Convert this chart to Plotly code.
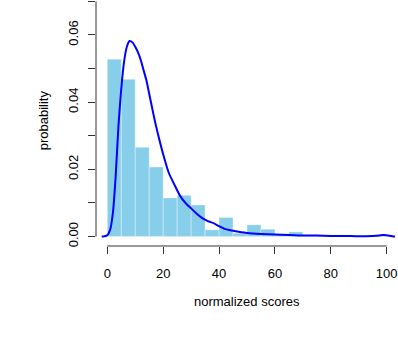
import plotly.graph_objects as go

# histogram (bin width 5, starting at 0)
bin_starts = [0, 5, 10, 15, 20, 25, 30, 35, 40, 45, 50, 55, 60, 65, 70, 75, 80, 85, 90, 95]
bin_density = [0.0528, 0.0468, 0.0266, 0.0207, 0.0115, 0.0123, 0.0094, 0.0020, 0.0057, 0.0010,
               0.0035, 0.0022, 0.0006, 0.0014, 0.0003, 0.0002, 0.0001, 0.0001, 0.0001, 0.0002]

# kernel density curve
dens_x = [-2, -1, 0, 1, 2, 3, 4, 5, 6, 7, 8, 9, 10, 11, 12, 13, 14, 15, 16, 17, 18, 20, 22, 24,
          26, 28, 30, 32, 34, 36, 38, 40, 42, 44, 46, 48, 50, 55, 60, 65, 70, 75, 80, 85, 90, 95,
          98, 99, 100, 102, 103]
dens_y = [0, 0.0001, 0.0004, 0.002, 0.007, 0.018, 0.033, 0.044, 0.052, 0.0565, 0.0582, 0.0578,
          0.0565, 0.0548, 0.0525, 0.0495, 0.0465, 0.0425, 0.0385, 0.0345, 0.031, 0.0245, 0.0190,
          0.0155, 0.0122, 0.0100, 0.0084, 0.0068, 0.0055, 0.0046, 0.0040, 0.0031, 0.0023, 0.0019,
          0.0016, 0.0013, 0.0011, 0.0008, 0.0006, 0.0005, 0.0003, 0.0003, 0.0002, 0.0002, 0.0001,
          0.0002, 0.0004, 0.0005, 0.0004, 0.0001, 0]

x_ticks = [0, 20, 40, 60, 80, 100]
y_ticks = [0, 0.01, 0.02, 0.03, 0.04, 0.05, 0.06, 0.07]
y_ticktext = ["0.00", "", "0.02", "", "0.04", "", "0.06", ""]

FONT = "Liberation Sans, Arial, Helvetica, sans-serif"
AXC = "#333333"
FS = 13

fig = go.Figure()
fig.add_trace(go.Bar(
    x=[s + 2.5 for s in bin_starts], y=bin_density, width=5,
    marker=dict(color="#87CEEB", line=dict(color="rgba(255,255,255,0.35)", width=1)),
    hoverinfo="skip", showlegend=False,
))
fig.add_trace(go.Scatter(
    x=dens_x, y=dens_y, mode="lines",
    line=dict(color="#0000FF", width=2, shape="spline", smoothing=0.6),
    hoverinfo="skip", showlegend=False,
))

fig.update_layout(
    width=398, height=342,
    margin=dict(l=96, r=0, t=0, b=96),
    plot_bgcolor="white", paper_bgcolor="white",
    font=dict(family=FONT, size=FS, color="#000000"),
    bargap=0,
    xaxis=dict(range=[-4.04, 104.05], tickvals=x_ticks, ticks="outside", ticklen=7,
               tickcolor=AXC, tickwidth=1, showgrid=False, zeroline=False, showline=False,
               ticklabelstandoff=8, tickfont=dict(size=FS), automargin=False),
    yaxis=dict(range=[-0.0028, 0.07041], tickvals=y_ticks, ticktext=y_ticktext,
               ticks="outside", ticklen=7, tickcolor=AXC, tickwidth=1, tickangle=-90,
               showgrid=False, zeroline=False, showline=False,
               ticklabelstandoff=5, tickfont=dict(size=FS), automargin=False),
    shapes=[
        dict(type="line", xref="paper", yref="y", x0=0, x1=0, y0=0, y1=0.07,
             line=dict(color=AXC, width=1)),
        dict(type="line", xref="x", yref="paper", x0=0, x1=100, y0=0, y1=0,
             line=dict(color=AXC, width=1)),
    ],
    annotations=[
        dict(text="normalized scores", xref="paper", yref="paper", x=0.5, y=0,
             yshift=-55, showarrow=False, yanchor="middle", font=dict(size=FS)),
        dict(text="probability", xref="paper", yref="y", x=0, y=0.0346,
             xshift=-53, showarrow=False, textangle=-90, xanchor="center",
             font=dict(size=FS)),
    ],
)

fig.write_html("out.html",
               config={"displayModeBar": False, "staticPlot": True},
               post_script="document.body.style.margin='0';document.body.style.overflow='hidden';")
